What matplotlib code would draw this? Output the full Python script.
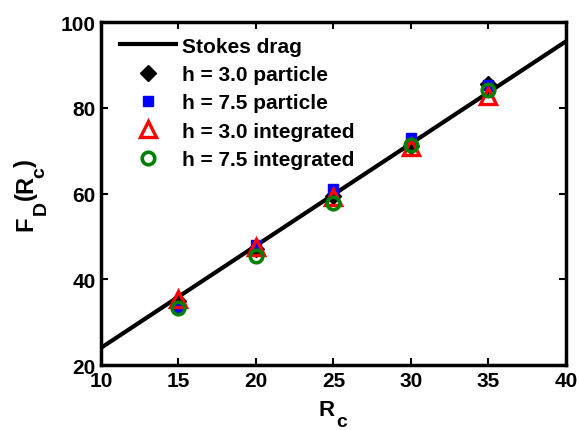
import matplotlib
matplotlib.use("Agg")
import matplotlib.pyplot as plt
from matplotlib.transforms import IdentityTransform

plt.rcParams['font.family'] = ['Liberation Sans', 'DejaVu Sans']
plt.rcParams['font.weight'] = 'bold'

# Data
stokes_x = [10, 40]
stokes_y = [24.0, 95.5]
Rc = [15, 20, 25, 30, 35]
h30_particle = [35.0, 47.0, 59.5, 71.0, 85.5]
h75_particle = [33.5, 48.0, 61.0, 73.0, 85.3]
h30_integrated = [35.4, 47.5, 59.2, 70.8, 82.8]
h75_integrated = [33.3, 45.5, 57.8, 71.3, 84.2]

xticks = [10, 15, 20, 25, 30, 35, 40]
yticks = [20, 40, 60, 80, 100]

fig = plt.figure(figsize=(5.79, 4.31), dpi=100)
ax = fig.add_axes([0.1744, 0.1508, 0.8031, 0.7958])

ax.plot(stokes_x, stokes_y, color='black', lw=3, label='Stokes drag', zorder=2)
ax.plot(Rc, h30_particle, ls='none', marker='D', color='black', ms=8, label='h = 3.0 particle', zorder=3)
ax.plot(Rc, h75_particle, ls='none', marker='s', color='blue', ms=7, label='h = 7.5 particle', zorder=4)
ax.plot(Rc, h30_integrated, ls='none', marker='^', mfc='none', mec='red', mew=2.4, ms=11, label='h = 3.0 integrated', zorder=5)
ax.plot(Rc, h75_integrated, ls='none', marker='o', mfc='none', mec='green', mew=2.6, ms=9, label='h = 7.5 integrated', zorder=6)

ax.set_xlim(10, 40)
ax.set_ylim(20, 100)
ax.set_xticks(xticks)
ax.set_yticks(yticks)
ax.tick_params(direction='in', top=True, right=True, length=5, width=1.5, labelsize=15, pad=4)
for lab in ax.get_xticklabels() + ax.get_yticklabels():
    lab.set_fontweight('bold')
for s in ax.spines.values():
    s.set_linewidth(2.5)

leg = ax.legend(loc='upper left', frameon=False, handlelength=2.7,
                handletextpad=0.3, labelspacing=0.45, borderaxespad=0.5,
                bbox_to_anchor=(0, 1.012),
                prop={'weight': 'bold', 'size': 15})

# Axis labels built from pieces (big, fully lowered subscripts)
renderer = fig.canvas.get_renderer()


def place_pieces(x0, y0, pieces, vertical=False):
    pos = y0 if vertical else x0
    for s, size, off, gap in pieces:
        pos += gap
        if vertical:
            t = fig.text(x0 + off, pos, s, transform=IdentityTransform(), fontsize=size,
                         fontweight='bold', rotation=90, rotation_mode='anchor',
                         ha='left', va='baseline')
            bb = t.get_window_extent(renderer)
            pos = bb.y1
        else:
            t = fig.text(pos, y0 + off, s, transform=IdentityTransform(), fontsize=size,
                         fontweight='bold', ha='left', va='baseline')
            bb = t.get_window_extent(renderer)
            pos = bb.x1


place_pieces(319, 15, [('R', 16, 0, 0), ('c', 14, -11, 1)])
place_pieces(32, 200, [('F', 17, 0, 0), ('D', 14, 14, 1), ('(', 17, 0, 1),
                       ('R', 17, 0, 0), ('c', 14, 12, -2), (')', 17, 0, 0)], vertical=True)

fig.savefig('out.png', dpi=100)
